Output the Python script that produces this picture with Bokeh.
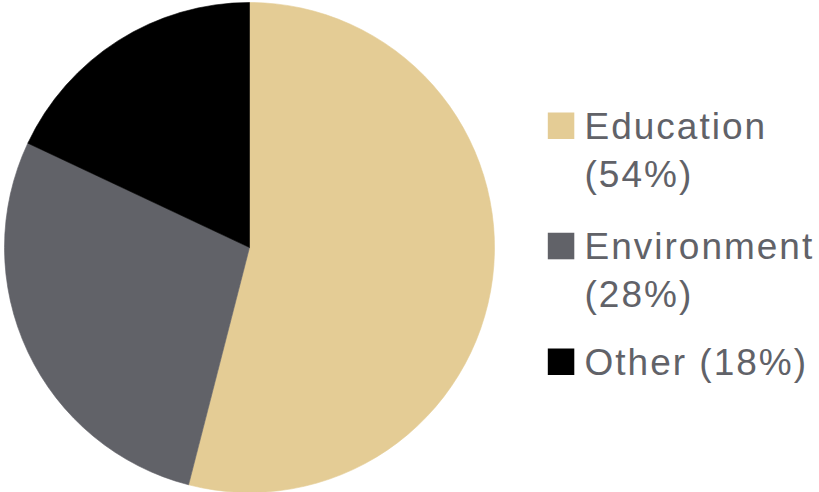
import math
from bokeh.plotting import figure
from bokeh.models import Range1d, ColumnDataSource, InlineStyleSheet
from bokeh.core.properties import value
from bokeh.embed import file_html
from bokeh.resources import INLINE

# ---- data ----
categories = ["Education", "Environment", "Other"]
shares = [54, 28, 18]
colors = ["#E4CC95", "#616268", "#000000"]
legend_lines = [["Education", "(54%)"], ["Environment", "(28%)"], ["Other (18%)"]]

W, H = 819, 492

p = figure(width=W, height=H, output_backend="svg", toolbar_location=None,
           x_range=Range1d(0, W), y_range=Range1d(0, H), min_border=0,
           outline_line_color=None, background_fill_color="white",
           border_fill_color="white")
p.axis.visible = False
p.xgrid.visible = False
p.ygrid.visible = False
p.stylesheets = [InlineStyleSheet(css=":host { letter-spacing: 2.0px; }")]

def fy(py):
    return H - py

# pie wedges, clockwise from 12 o'clock
total = float(sum(shares))
starts, ends = [], []
cum = 0.0
for v in shares:
    starts.append(math.pi / 2 - 2 * math.pi * cum / total)
    cum += v
    ends.append(math.pi / 2 - 2 * math.pi * cum / total)

src = ColumnDataSource(dict(start=starts, end=ends, color=colors, cat=categories))
p.wedge(x=249, y=fy(247), radius=245, start_angle="start", end_angle="end",
        direction="clock", fill_color="color", line_color="color", line_width=0.6,
        source=src)

# legend
sq_tops = [112.0, 232.3, 348.0]
line_gap = 48.0
sq_size = 26.5
text_x = 584.0
sx, sy, sc = [], [], []
tx, ty, tt = [], [], []
for i, lines in enumerate(legend_lines):
    top = sq_tops[i]
    sx.append(547.3 + sq_size / 2)
    sy.append(fy(top + sq_size / 2))
    sc.append(colors[i])
    base = top + 14.0
    for j, ln in enumerate(lines):
        tx.append(text_x)
        ty.append(fy(base + j * line_gap))
        tt.append(ln)

p.rect(x=sx, y=sy, width=sq_size, height=sq_size, fill_color=sc, line_color=None)
p.text(x=tx, y=ty, text=tt, text_baseline="alphabetic", text_align="left",
       text_font=value("Liberation Sans"), text_font_size="37px",
       text_color="#616268")

open("out.html", "w").write(file_html(p, INLINE))
